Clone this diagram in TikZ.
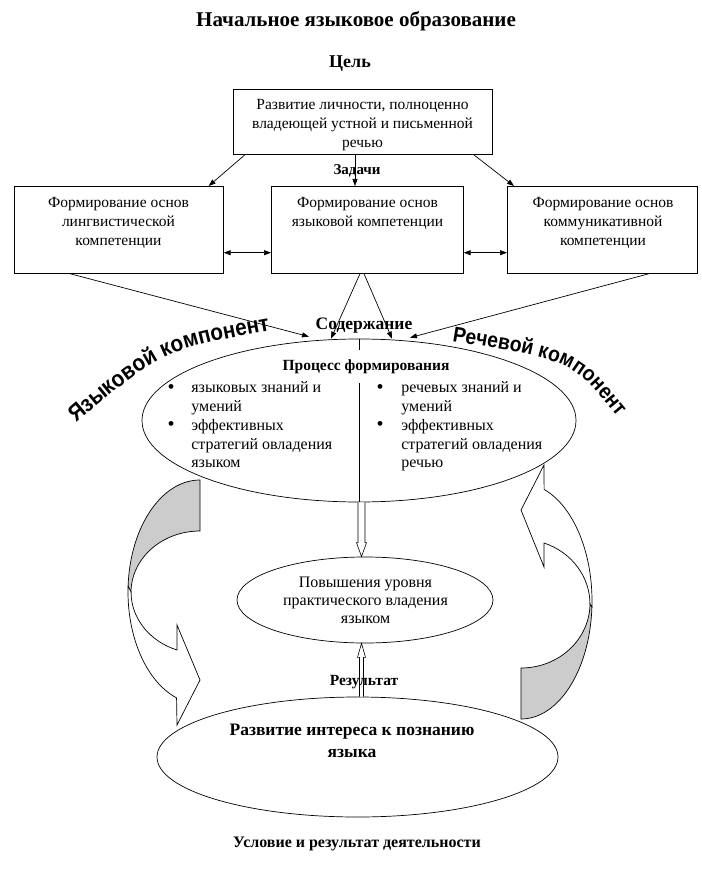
\documentclass[tikz,border=0pt]{standalone}
\usepackage{fontspec}
\setmainfont{Liberation Serif}
\newfontfamily\arialn[FakeStretch=0.9]{Liberation Sans}
\usetikzlibrary{arrows.meta,decorations.text,calc,shapes.geometric}
\definecolor{shade}{RGB}{204,204,204}
\begin{document}
\begin{tikzpicture}[x=1pt,y=-1pt,line width=0.7pt,
  txt/.style={font=\fontsize{15.5}{19}\selectfont, align=center, inner sep=0pt},
  bul/.style={font=\fontsize{16}{18.75}\selectfont, align=left, inner sep=0pt, anchor=north west},
  dot/.style={font=\fontsize{20}{20}\selectfont, inner sep=0pt, anchor=base},
  hdr/.style={font=\bfseries\fontsize{15.5}{18}\selectfont, inner sep=0pt, anchor=base},
  box/.style={draw, rectangle, inner sep=0pt, anchor=north west},
  oval/.style={draw, ellipse, inner sep=0pt},
  arr/.style={-{Triangle[length=7pt,width=5pt]}},
  darr/.style={{Triangle[length=7pt,width=5pt]}-{Triangle[length=7pt,width=5pt]}},
  hollow/.style={draw, fill=white, line width=0.6pt},
  comp/.style 2 args={decorate, decoration={text along path, text align=left,
     text={|\arialn\bfseries\fontsize{#1}{#1}\selectfont|#2}}}
]
\fill[white] (0,0) rectangle (701,882);
\useasboundingbox (0,0) rectangle (701,882);

% headings
\node[font=\bfseries\fontsize{21}{24}\selectfont, anchor=base, inner sep=0pt] (title) at (356,27) {Начальное языковое образование};
\node[font=\bfseries\fontsize{18}{20}\selectfont, anchor=base, inner sep=0pt] (goal) at (350,68) {Цель};

% top box
\node[box, minimum width=259, minimum height=65] (top) at (233,89) {};
\node[txt, anchor=north] (toptxt) at (362.5,99.5) {Развитие личности, полноценно\\владеющей устной и письменной\\речью};

% three boxes
\node[box, minimum width=209.5, minimum height=87] (lb) at (13.5,186) {};
\node[box, minimum width=192, minimum height=87] (mb) at (271,186) {};
\node[box, minimum width=190, minimum height=87] (rb) at (507,186) {};
\node[txt, anchor=north] (lbt) at (118.5,197) {Формирование основ\\лингвистической\\компетенции};
\node[txt, anchor=north] (mbt) at (367.5,197) {Формирование основ\\языковой компетенции};
\node[txt, anchor=north] (rbt) at (603,197) {Формирование основ\\коммуникативной\\компетенции};

% arrows from goal
\coordinate (t1) at ($(top.south west)+(122,0)$);
\draw[arr] (t1) -- (t1 |- mb.north);
\draw[arr] ($(top.south west)+(12,0)$) -- ($(lb.north east)+(-15,0)$);
\draw[arr] ($(top.south east)+(-19,0)$) -- ($(rb.north west)+(7,0)$);
\node[font=\bfseries\fontsize{15}{16}\selectfont, inner sep=0pt, anchor=base] (tasks) at (357,175) {Задачи};

% double arrows
\draw[darr] ($(lb.south east)+(0,-21)$) -- ($(mb.south west)+(0,-21)$);
\draw[darr] ($(mb.south east)+(0,-21)$) -- ($(rb.south west)+(0,-21)$);

% curved arrows (behind ellipses)
\draw[fill=shade] (200,480) arc[start angle=270, end angle=183, x radius=72, y radius=112]
  -- (131,592.5) arc[start angle=180, end angle=270, x radius=69, y radius=61.5] -- cycle;
\draw[fill=white] (128.1,586.1) arc[start angle=183, end angle=109, x radius=72, y radius=112]
  -- (177,725) -- (200,680) -- (177,625) -- (177,650)
  arc[start angle=109.5, end angle=180, x radius=69, y radius=61.5] -- cycle;

\draw[fill=shade] (521,719) arc[start angle=90, end angle=3, x radius=71, y radius=118]
  -- (590,603.3) arc[start angle=0, end angle=90, x radius=69, y radius=64.7] -- cycle;
\draw[fill=white] (591.9,607.2) arc[start angle=3, end angle=-71, x radius=71, y radius=118]
  -- (544,465) -- (521,510) -- (544,567) -- (544,543)
  arc[start angle=-70.5, end angle=0, x radius=69, y radius=64.7] -- cycle;

% big ellipse
\node[oval, minimum width=434, minimum height=163] (big) at (359,420.5) {};
\draw (big.north) -- ++(0,11);
\draw (big.south) -- ++(0,-119);

% converging arrows
\coordinate (e1) at ($(big.north)+(-50,-2)$);
\coordinate (e2) at ($(big.north)+(-28,0)$);
\coordinate (e3) at ($(big.north)+(33,0)$);
\coordinate (e4) at ($(big.north)+(51,-1)$);
\draw[arr] ($(lb.south west)+(56.5,0)$) -- (e1);
\draw[arr] ($(mb.south west)+(89,0)$) -- (e2);
\draw[arr] ($(mb.south west)+(93,0)$) -- (e3);
\draw[arr] ($(rb.south west)+(142,0)$) -- (e4);
\node[font=\bfseries\fontsize{17.5}{20}\selectfont, inner sep=0pt, anchor=base] (content) at (364,329) {Содержание};

% curved labels
\path[comp={23}{Языковой компонент}] (76,423) .. controls (163,350) .. (272,330) -- ++(40,-5);
\path[comp={21.5}{Речевой компонент}] (452,341) .. controls (572,361) .. (614,413) -- ++(25,30);

% inside big ellipse
\node[hdr] (proc) at (366,370) {Процесс формирования};
\node[dot] (b1) at (171,393) {•};
\node[dot] (b2) at (171,430.5) {•};
\node[dot] (b3) at (380,393) {•};
\node[dot] (b4) at (380,430.5) {•};
\node[bul] (lcol) at (191,381.5) {языковых знаний и\\умений\\эффективных\\стратегий овладения\\языком};
\node[bul] (rcol) at (401,381.5) {речевых знаний и\\умений\\эффективных\\стратегий овладения\\речью};

% middle ellipse
\node[oval, minimum width=256, minimum height=86] (mid) at (365,600) {};
\node[txt, font=\fontsize{16}{18}\selectfont, anchor=north] (midt) at (365.5,577) {Повышения уровня\\практического владения\\языком};

% bottom ellipse
\node[oval, minimum width=401, minimum height=120] (bot) at (357.5,757) {};
\node[font=\bfseries\fontsize{17.5}{22}\selectfont, align=center, inner sep=0pt, anchor=north] (bott) at (352,723.5) {Развитие интереса к познанию\\языка};

% hollow arrows
\coordinate (ax) at (361.5,0);
\draw[hollow] ($(big.south -| ax)+(-3.5,0)$) -- ($(mid.north -| ax)+(-3.5,-14)$) -- ($(mid.north -| ax)+(-5,-14)$)
  -- (mid.north -| ax) -- ($(mid.north -| ax)+(5,-14)$) -- ($(mid.north -| ax)+(3.5,-14)$) -- ($(big.south -| ax)+(3.5,0)$);
\draw[hollow] ($(bot.north -| ax)+(-2,0)$) -- ($(mid.south -| ax)+(-2,14)$) -- ($(mid.south -| ax)+(-4,14)$)
  -- (mid.south -| ax) -- ($(mid.south -| ax)+(4,14)$) -- ($(mid.south -| ax)+(2,14)$) -- ($(bot.north -| ax)+(2,0)$);
\node[hdr] (res) at (364,685) {Результат};

\node[font=\bfseries\fontsize{16}{18}\selectfont, inner sep=0pt, anchor=base] (cond) at (357,847) {Условие и результат деятельности};
\end{tikzpicture}
\end{document}
